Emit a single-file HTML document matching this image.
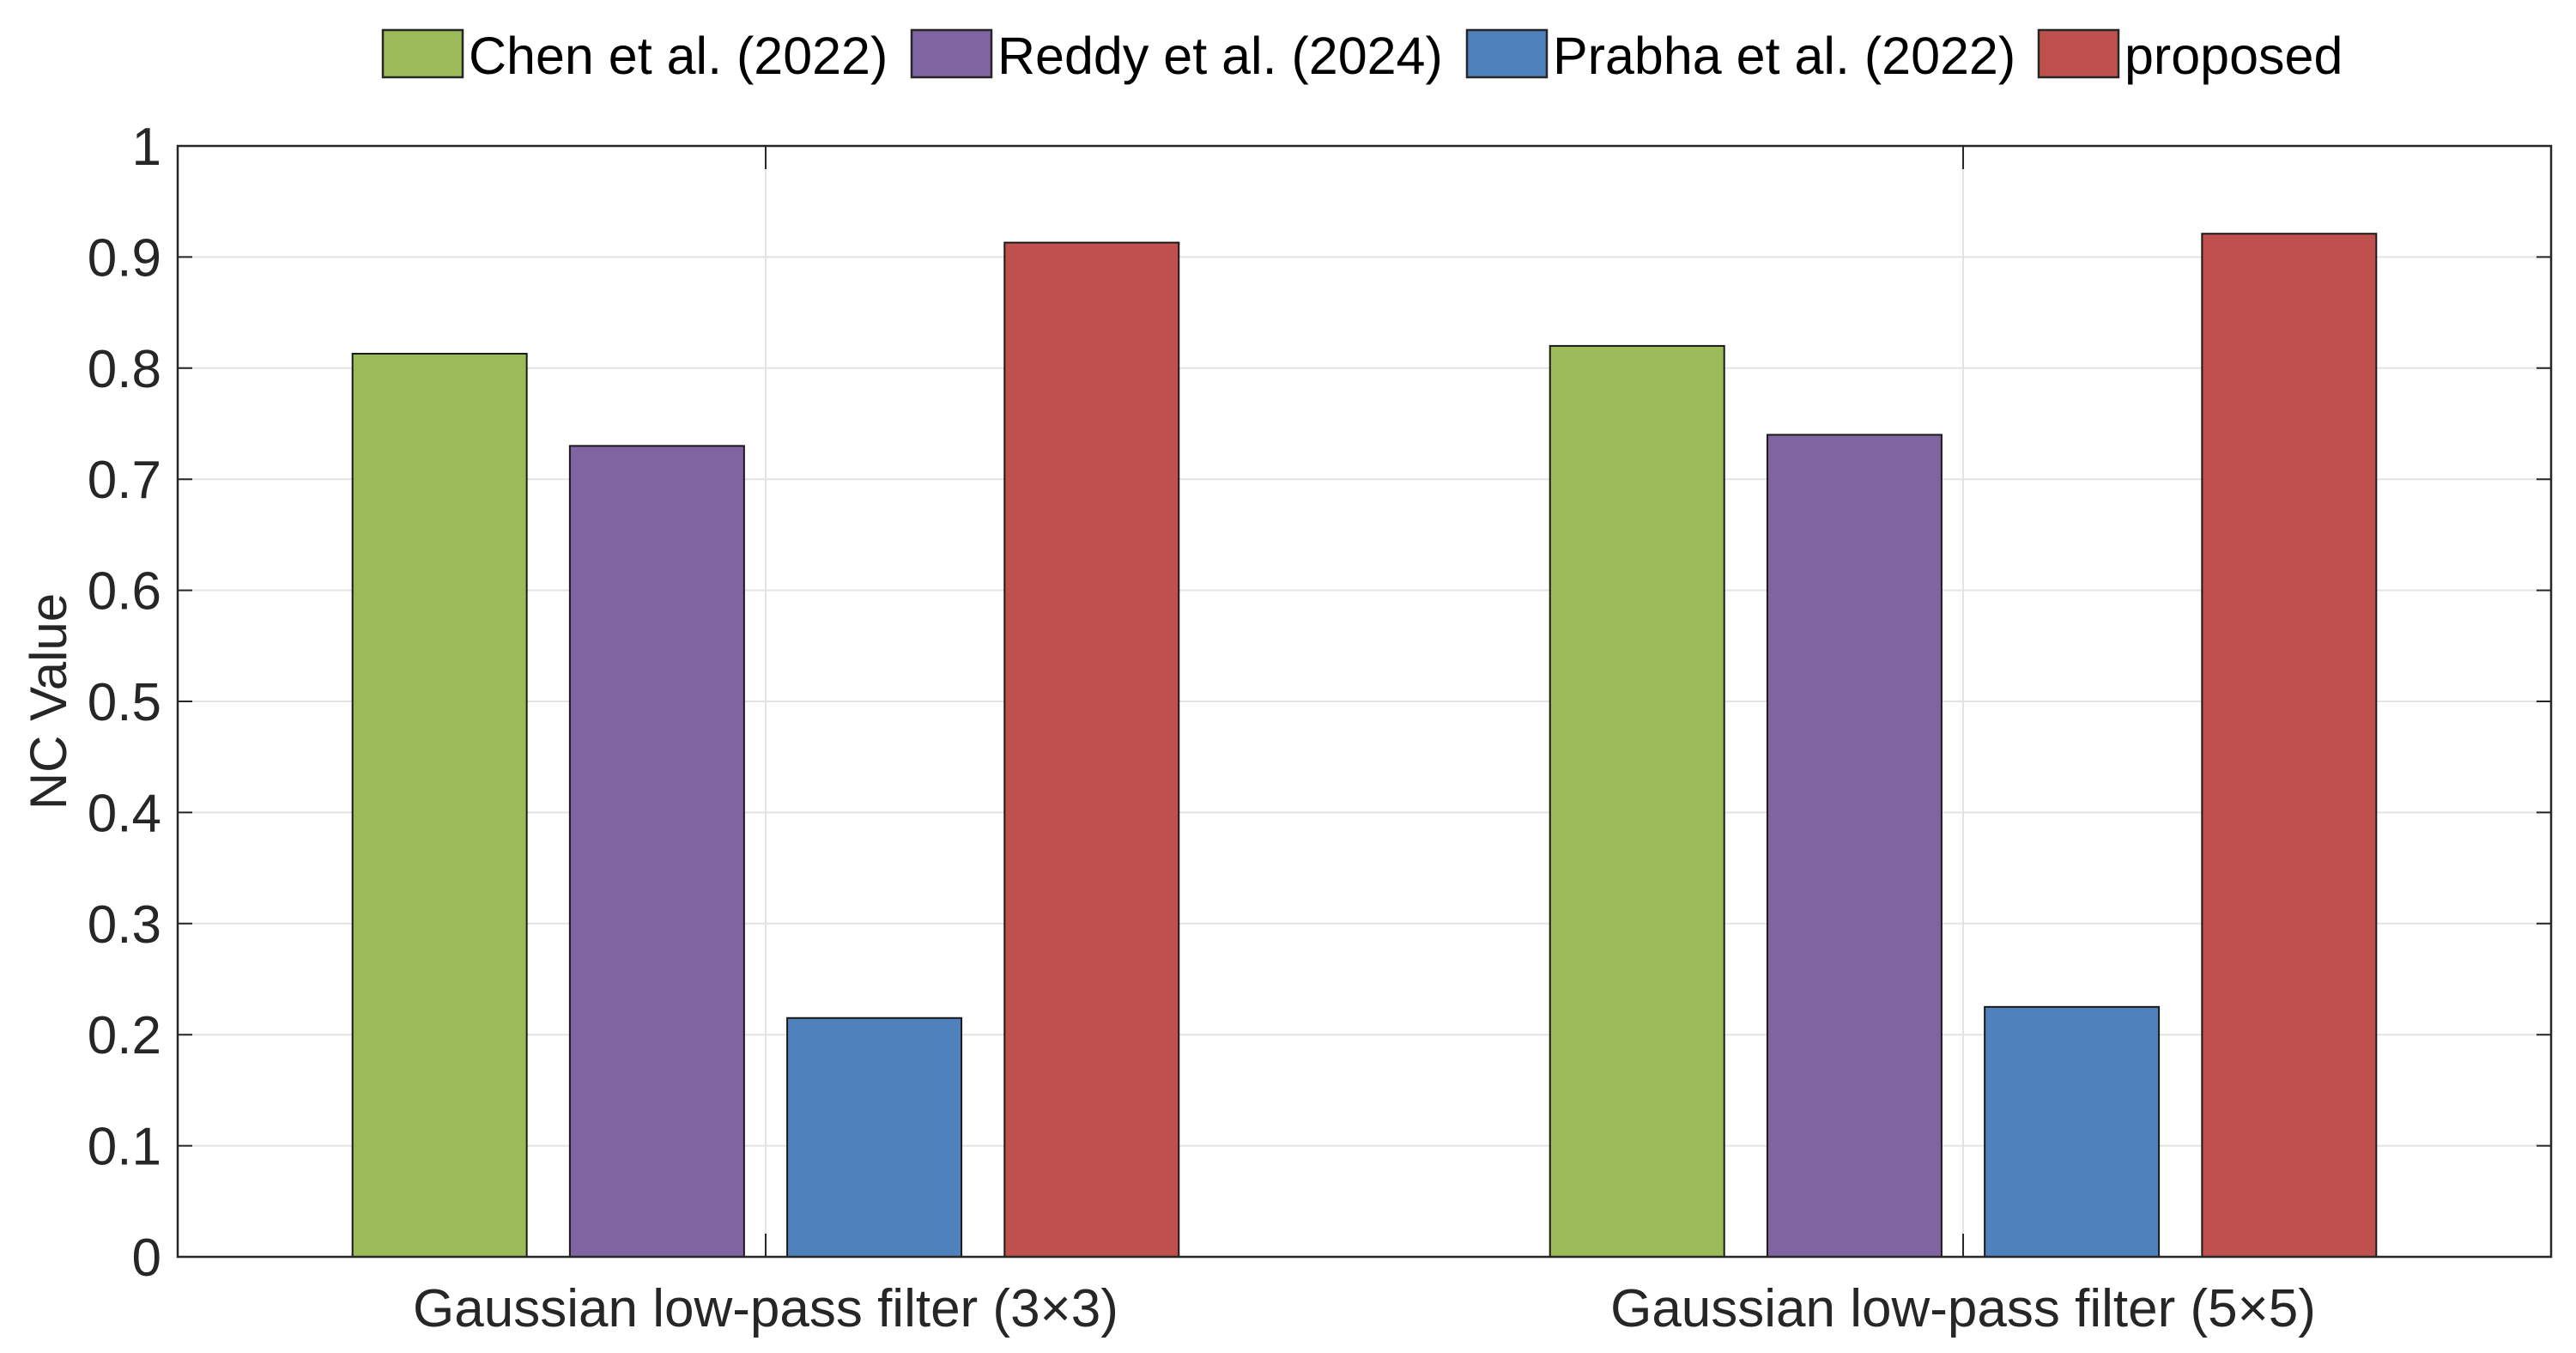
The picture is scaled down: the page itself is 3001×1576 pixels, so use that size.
<!DOCTYPE html>
<html><head><meta charset="utf-8"><style>
html,body{margin:0;padding:0;background:#fff;}
svg{display:block;font-family:"Liberation Sans",Arial,sans-serif;}
</style></head><body>
<svg id="chart" width="3001" height="1576" viewBox="0 0 3001 1576" xmlns="http://www.w3.org/2000/svg">
<g id="grid"></g>
<g id="bars"></g>
<g id="axes"></g>
<g id="legend"></g>
<text x="0" y="0" transform="translate(77,817) rotate(-90)" text-anchor="middle" font-size="60" fill="#262626">NC Value</text>
</svg>
<script>
const categories = ["Gaussian low-pass filter (3×3)", "Gaussian low-pass filter (5×5)"];
const seriesNames = ["Chen et al. (2022)", "Reddy et al. (2024)", "Prabha et al. (2022)", "proposed"];
const chenValues = [0.813, 0.820];
const reddyValues = [0.730, 0.740];
const prabhaValues = [0.215, 0.225];
const proposedValues = [0.913, 0.921];
const yTicks = [0, 0.1, 0.2, 0.3, 0.4, 0.5, 0.6, 0.7, 0.8, 0.9, 1];
const yTickLabels = ["0", "0.1", "0.2", "0.3", "0.4", "0.5", "0.6", "0.7", "0.8", "0.9", "1"];
const seriesColors = ["#9BBB59", "#8064A2", "#4F81BD", "#C0504D"];

const NS = "http://www.w3.org/2000/svg";
const L = 207, R = 2972, T = 170, B = 1464;
const xMin = 0.509, xMax = 2.491;
const xs = v => L + (v - xMin) / (xMax - xMin) * (R - L);
const ys = v => B - v * (B - T);
function mk(tag, attrs, parent) {
  const e = document.createElementNS(NS, tag);
  for (const k in attrs) e.setAttribute(k, attrs[k]);
  parent.appendChild(e);
  return e;
}
const grid = document.getElementById("grid");
const bars = document.getElementById("bars");
const axes = document.getElementById("axes");
const legend = document.getElementById("legend");

yTicks.forEach((t, i) => {
  if (t > 0 && t < 1) {
    const g = mk("line", {x1: L, x2: R, y1: ys(t), y2: ys(t), stroke: "#e3e3e3", "stroke-width": 2}, grid);
    
    
  }
  const tk = mk("line", {x1: L, x2: L + 17, y1: ys(t), y2: ys(t), stroke: "#262626", "stroke-width": 2}, axes);
  
  
  const tk2 = mk("line", {x1: R - 17, x2: R, y1: ys(t), y2: ys(t), stroke: "#262626", "stroke-width": 2}, axes);
  
  
  const lb = mk("text", {x: L - 19, y: ys(t) + 22, "text-anchor": "end", "font-size": 62, fill: "#262626"}, axes);
  lb.textContent = yTickLabels[i];
  
  
});

categories.forEach((c, i) => {
  const cx = xs(i + 1);
  const g = mk("line", {x1: cx, x2: cx, y1: T, y2: B, stroke: "#e3e3e3", "stroke-width": 2}, grid);
  
  
  const t1 = mk("line", {x1: cx, x2: cx, y1: B - 27, y2: B, stroke: "#262626", "stroke-width": 2}, axes);
  
  
  const t2 = mk("line", {x1: cx, x2: cx, y1: T, y2: T + 27, stroke: "#262626", "stroke-width": 2}, axes);
  
  
  const lb = mk("text", {x: cx, y: 1545, "text-anchor": "middle", "font-size": 62, fill: "#262626"}, axes);
  lb.textContent = c;
  
  
});

const allSeries = [chenValues, reddyValues, prabhaValues, proposedValues];
const barW = 0.1455, step = 0.1815;
allSeries.forEach((vals, s) => {
  vals.forEach((v, i) => {
    const center = (i + 1) + (s - 1.5) * step;
    const x0 = xs(center - barW / 2), x1 = xs(center + barW / 2);
    const r = mk("rect", {x: x0, y: ys(v), width: x1 - x0, height: ys(0) - ys(v), fill: seriesColors[s], stroke: "#1a1a1a", "stroke-width": 2}, bars);
    
    
  });
});

const box = mk("rect", {x: L, y: T, width: R - L, height: B - T, fill: "none", stroke: "#262626", "stroke-width": 2.5}, axes);



const legX = [446, 1062, 1709, 2375];
seriesNames.forEach((n, s) => {
  const r = mk("rect", {x: legX[s], y: 35, width: 93, height: 55, fill: seriesColors[s], stroke: "#262626", "stroke-width": 2.5}, legend);
  
  
  const t = mk("text", {x: legX[s] + 100, y: 86, "font-size": 61, fill: "#000"}, legend);
  t.textContent = n;
  
  
});
</script>
</body></html>
